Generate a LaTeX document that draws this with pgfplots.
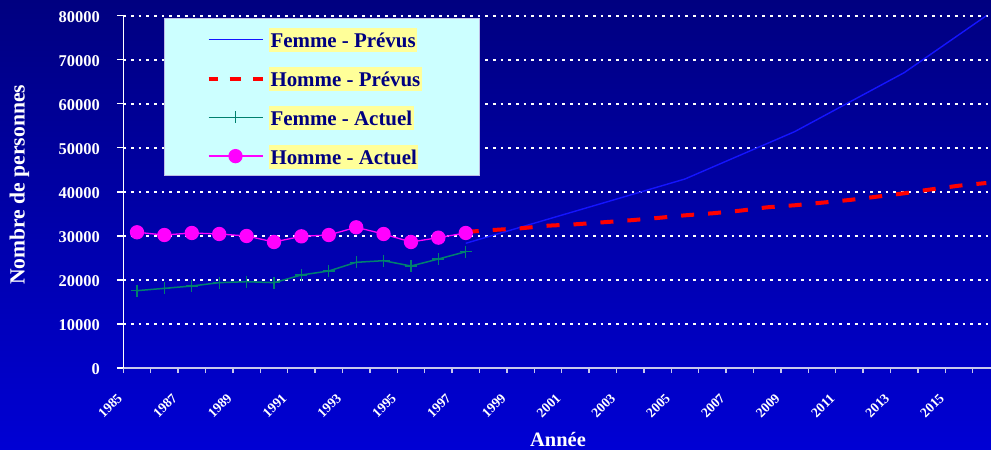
\documentclass[border=0pt]{standalone}
\usepackage{fontspec}
\setmainfont{Liberation Serif}
\usepackage{pgfplots}
\pgfplotsset{compat=1.18}
\definecolor{bgtop}{RGB}{0,0,128}
\definecolor{bgbot}{RGB}{0,0,212}
\definecolor{legcyan}{RGB}{204,255,255}
\definecolor{legyellow}{RGB}{255,255,153}
\definecolor{legtext}{RGB}{0,0,128}
\definecolor{legborder}{RGB}{190,190,230}
\definecolor{femact}{RGB}{0,128,110}
\definecolor{hommeact}{RGB}{255,0,255}
\definecolor{femprev}{RGB}{20,20,255}
\definecolor{axgray}{RGB}{200,200,235}
\newcommand{\legbox}[1]{\setlength{\fboxsep}{1.5bp}\colorbox{legyellow}{\rule[-3.1bp]{0pt}{21bp}#1}}
\pgfkeys{/pgf/number format/.cd,1000 sep={}}
\pgfplotsset{
  stdleg/.style={legend image code/.code={\draw[##1, mark repeat=2, mark phase=2] plot coordinates {(0bp,-1bp) (27bp,-1bp) (54bp,-1bp)};}},
  redleg/.style={legend image code/.code={\draw[##1, dash pattern=on 11.6bp off 11.7bp, dash phase=2.3bp] (0bp,-1bp) -- (54bp,-1bp);}},
}
\begin{document}
\begin{tikzpicture}
\shade[top color=bgtop, bottom color=bgbot] (-123.3bp,-82bp) rectangle (867.7bp,368bp);
\useasboundingbox (-123.3bp,-82bp) rectangle (867.7bp,368bp);
\begin{axis}[
  at={(0,0)}, anchor=south west,
  scale only axis, width=867.7bp, height=352.3bp,
  xmin=1984.5, xmax=2016.17, ymin=0, ymax=80000,
  axis x line*=bottom, axis y line*=left,
  x axis line style={-, draw=axgray, line width=1.6bp},
  y axis line style={-, draw=white, line width=1.3bp},
  xtick={1985,1987,...,2015},
  minor xtick={1984.5,1985.5,...,2015.5},
  xtick style={draw=none},
  minor x tick style={draw=axgray, line width=1.3bp},
  minor tick length=5bp,
  major tick length=6.5bp,
  tick align=outside,
  ytick={0,10000,...,80000},
  ytick style={draw=white, line width=1.3bp},
  scaled y ticks=false,
  /pgf/number format/assume math mode=true,
  tick label style={font=\bfseries\fontsize{16.5}{18}\selectfont, text=white},
  yticklabel style={inner sep=0pt, xshift=-16.8bp, yshift=-1.5bp},
  xticklabel style={font=\bfseries\fontsize{13.7}{15}\selectfont, rotate=45, anchor=east, inner sep=0pt, xshift=-27.2bp, yshift=-3.2bp},
  ymajorgrids,
  major grid style={white, line width=2bp, dash pattern=on 2.7bp off 5bp},
  every axis y label/.style={at={(rel axis cs:0,0.52)}, xshift=-103.8bp, rotate=90, anchor=center, font=\bfseries\fontsize{21.7}{25}\selectfont, text=white},
  every axis x label/.style={at={(rel axis cs:0.501,0)}, yshift=-78.7bp, anchor=base, font=\bfseries\fontsize{20.5}{24}\selectfont, text=white},
  xlabel={Année},
  ylabel={Nombre de personnes},
  legend cell align=left,
  stdleg,
  legend style={at={(0.04725,0.99262)}, anchor=north west, fill=legcyan, draw=legborder, line width=1bp,
    inner xsep=41.7bp, inner ysep=9.5bp, row sep=17.9bp, column sep=4.5bp,
    font=\bfseries\fontsize{21}{24}\selectfont, text=legtext, nodes={inner sep=0pt}},
]
\addplot[femprev, line width=1.4bp] coordinates {
(1997,28320) (2001,35620) (2005,42920) (2009,53660) (2013,67060) (2016,80000)};
\addlegendentry{\legbox{Femme - Prévus}}
\addplot[red, line width=4bp, dash pattern=on 13bp off 14bp, redleg] coordinates {
(1997,30900) (1998,31340) (1999,31720) (2000,32320) (2001,32630) (2002,33080)
(2003,33540) (2004,34070) (2005,34670) (2006,35130) (2007,35720) (2008,36490)
(2009,36950) (2010,37540) (2011,38150) (2012,38900) (2013,39670) (2014,40580)
(2015,41400) (2016,42010)};
\addlegendentry{\legbox{Homme - Prévus}\rule{16bp}{0pt}}
\addplot[femact, line width=1.5bp, mark=+, mark size=6bp, mark options={solid, line width=1.3bp}] coordinates {
(1985,17560) (1986,18090) (1987,18620) (1988,19380) (1989,19600) (1990,19380)
(1991,21120) (1992,22030) (1993,24000) (1994,24370) (1995,23160) (1996,24750) (1997,26410)};
\addlegendentry{\legbox{Femme - Actuel}}
\addplot[hommeact, line width=1.3bp, mark=*, mark size=6.5bp, mark options={solid, fill=hommeact, draw=hommeact}] coordinates {
(1985,30820) (1986,30200) (1987,30660) (1988,30430) (1989,29980) (1990,28610)
(1991,29900) (1992,30200) (1993,31950) (1994,30430) (1995,28610) (1996,29600) (1997,30660)};
\addlegendentry{\legbox{Homme - Actuel}}
\end{axis}
\end{tikzpicture}
\end{document}
